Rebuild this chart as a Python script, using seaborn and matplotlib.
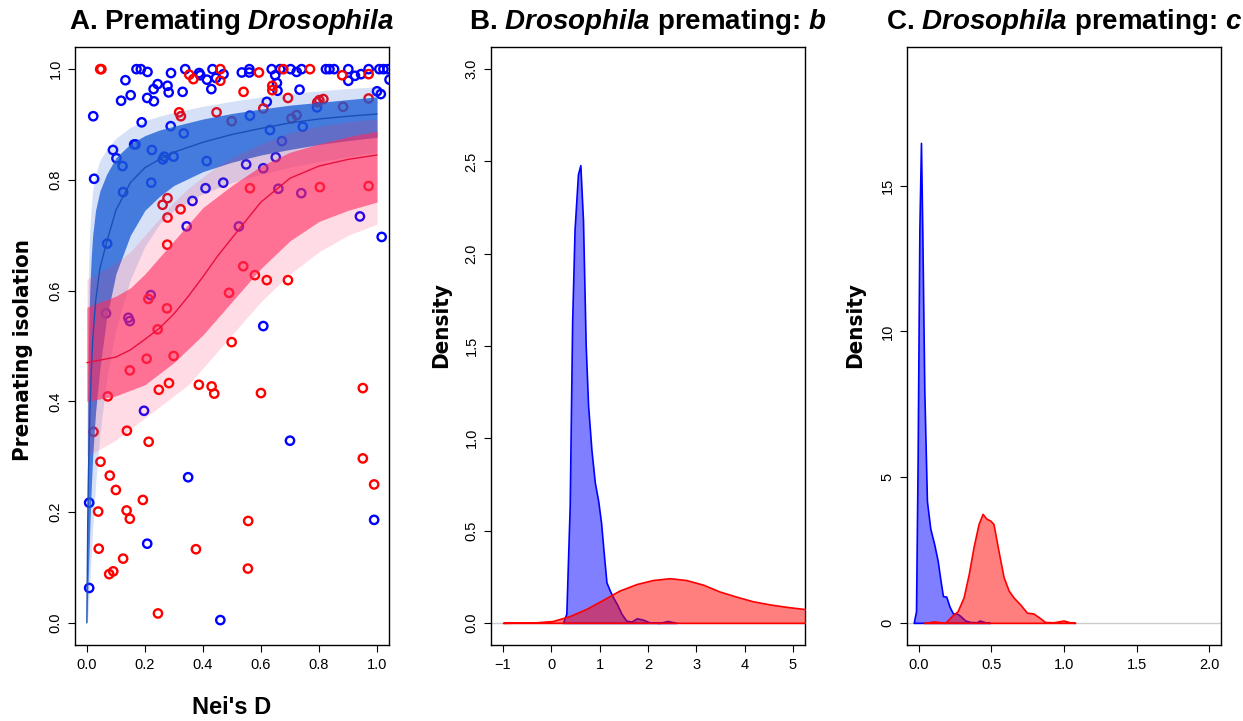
import numpy as np
import pandas as pd
import matplotlib
matplotlib.use("Agg")
import matplotlib.pyplot as plt
from matplotlib import font_manager as fm
import seaborn as sns

# ---- panel A: observed points (Nei's D, premating isolation) ----
blue_D = [0.171, 0.186, 0.209, 0.133, 0.290, 0.339, 0.387, 0.391, 0.414, 0.433, 0.445, 0.471,
          0.429, 0.244, 0.230, 0.278, 0.282, 0.330, 0.151, 0.118, 0.208, 0.231, 0.022, 0.189,
          0.289, 0.334, 0.090, 0.102, 0.123, 0.163, 0.168, 0.224, 0.025, 0.222, 0.125, 0.267,
          0.262, 0.299, 0.413, 0.470, 0.409, 0.364, 0.344, 0.070,
          0.534, 0.560, 0.560, 0.637, 0.666, 0.702, 0.723, 0.740, 0.824, 0.836, 0.852, 0.901,
          0.901, 0.924, 0.945, 0.971, 1.008, 1.022, 1.036, 1.043, 0.649, 0.655, 0.657, 0.733,
          0.620, 0.793, 1.000, 1.013, 0.562, 0.631, 0.744, 0.672, 0.549, 0.651, 0.608, 0.660,
          0.739, 0.941, 0.524, 1.016,
          0.220, 0.066, 0.143, 0.148, 0.197, 0.700, 0.608, 0.349, 0.008, 0.990, 0.208, 0.008,
          0.460]
blue_y = [1.000, 1.000, 0.995, 0.980, 0.993, 1.000, 0.993, 0.989, 0.981, 1.000, 0.984, 0.991,
          0.964, 0.973, 0.964, 0.970, 0.958, 0.959, 0.953, 0.943, 0.948, 0.942, 0.915, 0.904,
          0.897, 0.884, 0.854, 0.839, 0.825, 0.864, 0.864, 0.854, 0.802, 0.795, 0.778, 0.842,
          0.837, 0.842, 0.834, 0.795, 0.785, 0.762, 0.716, 0.685,
          0.994, 1.000, 0.994, 1.000, 1.000, 1.000, 0.995, 1.000, 1.000, 1.000, 1.000, 1.000,
          0.979, 0.988, 0.991, 1.000, 1.000, 1.000, 1.000, 0.981, 0.989, 0.975, 0.961, 0.963,
          0.941, 0.931, 0.960, 0.955, 0.916, 0.890, 0.896, 0.870, 0.828, 0.841, 0.821, 0.784,
          0.776, 0.734, 0.716, 0.697,
          0.592, 0.559, 0.551, 0.545, 0.383, 0.329, 0.536, 0.263, 0.217, 0.186, 0.143, 0.063,
          0.005]

red_D = [0.046, 0.050, 0.353, 0.367, 0.460, 0.460, 0.318, 0.324, 0.447, 0.499, 0.278, 0.261,
         0.323, 0.278, 0.277,
         0.593, 0.677, 0.769, 0.880, 0.971, 0.639, 0.639, 0.540, 0.693, 0.608, 0.794, 0.801,
         0.815, 0.883, 0.971, 0.705, 0.723, 0.562, 0.803, 0.971,
         0.212, 0.276, 0.244, 0.206, 0.299, 0.148, 0.072, 0.248, 0.283, 0.386, 0.430, 0.439,
         0.600, 0.951, 0.023, 0.138, 0.213, 0.951, 0.047, 0.490, 0.539, 0.579, 0.620, 0.693,
         0.499,
         0.079, 0.100, 0.193, 0.990, 0.039, 0.137, 0.148, 0.556, 0.041, 0.376, 0.125, 0.077,
         0.091, 0.555, 0.245]
red_y = [1.000, 1.000, 0.990, 0.982, 1.000, 0.979, 0.922, 0.915, 0.922, 0.906, 0.767, 0.755,
         0.747, 0.732, 0.683,
         0.994, 1.000, 1.000, 0.989, 0.991, 0.970, 0.962, 0.959, 0.948, 0.929, 0.940, 0.944,
         0.946, 0.932, 0.947, 0.911, 0.917, 0.785, 0.787, 0.789,
         0.585, 0.568, 0.530, 0.477, 0.482, 0.456, 0.409, 0.421, 0.433, 0.430, 0.427, 0.414,
         0.415, 0.424, 0.345, 0.347, 0.327, 0.297, 0.291, 0.596, 0.644, 0.628, 0.619, 0.619,
         0.507,
         0.266, 0.240, 0.222, 0.250, 0.201, 0.203, 0.188, 0.184, 0.134, 0.133, 0.116, 0.088,
         0.093, 0.098, 0.017]

# ---- panel A: posterior fits (mean curve and envelope) ----
blue_fit_D = [0, 0.003, 0.006, 0.01, 0.015, 0.02, 0.03, 0.045, 0.068, 0.1, 0.15, 0.2, 0.25,
              0.3, 0.4, 0.5, 0.6, 0.7, 0.8, 0.9, 1.0]
blue_mean = [0, 0.18, 0.28, 0.37, 0.45, 0.51, 0.58, 0.64, 0.687, 0.745, 0.795, 0.822, 0.837,
             0.850, 0.868, 0.882, 0.893, 0.903, 0.910, 0.915, 0.919]
blue_lo = [0, 0.05, 0.10, 0.17, 0.24, 0.30, 0.38, 0.46, 0.55, 0.63, 0.70, 0.745, 0.77,
           0.79, 0.815, 0.832, 0.845, 0.855, 0.864, 0.871, 0.877]
blue_hi = [0, 0.40, 0.52, 0.60, 0.66, 0.70, 0.745, 0.78, 0.81, 0.84, 0.865, 0.88, 0.89,
           0.897, 0.91, 0.92, 0.928, 0.935, 0.94, 0.945, 0.95]
blue_lo_outer = [0, 0.01, 0.03, 0.07, 0.12, 0.17, 0.25, 0.34, 0.44, 0.53, 0.62, 0.68, 0.72,
                 0.745, 0.775, 0.795, 0.81, 0.823, 0.833, 0.842, 0.85]
blue_hi_outer = [0, 0.55, 0.65, 0.71, 0.75, 0.78, 0.81, 0.835, 0.855, 0.875, 0.895, 0.907,
                 0.915, 0.922, 0.933, 0.942, 0.95, 0.956, 0.961, 0.965, 0.968]

red_fit_D = [0, 0.1, 0.15, 0.2, 0.25, 0.3, 0.35, 0.4, 0.45, 0.5, 0.6, 0.7, 0.8, 0.9, 1.0]
red_mean = [0.470, 0.480, 0.493, 0.512, 0.532, 0.558, 0.590, 0.625, 0.662, 0.695, 0.760,
            0.803, 0.825, 0.837, 0.845]
red_lo = [0.40, 0.41, 0.42, 0.43, 0.45, 0.47, 0.495, 0.52, 0.55, 0.58, 0.64, 0.69, 0.725,
          0.745, 0.76]
red_hi = [0.57, 0.59, 0.605, 0.63, 0.66, 0.69, 0.72, 0.75, 0.77, 0.79, 0.825, 0.85, 0.865,
          0.878, 0.888]
red_lo_outer = [0.30, 0.33, 0.35, 0.37, 0.39, 0.41, 0.43, 0.46, 0.49, 0.52, 0.58, 0.63, 0.67,
                0.70, 0.72]
red_hi_outer = [0.62, 0.65, 0.67, 0.70, 0.73, 0.76, 0.785, 0.805, 0.825, 0.84, 0.865, 0.885,
                0.897, 0.905, 0.91]

# ---- panel B: posterior density of b ----
b_blue_x = [0.24, 0.31, 0.38, 0.43, 0.48, 0.55, 0.60, 0.655, 0.71, 0.76, 0.83, 0.90, 0.97,
            1.03, 1.08, 1.14, 1.21, 1.28, 1.36, 1.45, 1.55, 1.66, 1.77, 1.90, 2.03, 2.24,
            2.41, 2.59]
b_blue_y = [0.0, 0.05, 0.64, 1.63, 2.13, 2.43, 2.48, 2.18, 1.51, 1.18, 0.935, 0.76, 0.66,
            0.54, 0.39, 0.22, 0.175, 0.137, 0.10, 0.05, 0.012, 0.007, 0.025, 0.017, 0.003,
            0.0, 0.01, 0.0]
b_red_x = [-1.0, -0.31, 0.03, 0.38, 0.72, 1.07, 1.41, 1.76, 2.10, 2.45, 2.79, 3.14, 3.48,
           3.83, 4.17, 4.52, 4.86, 5.24, 5.6]
b_red_y = [0.0, 0.003, 0.01, 0.037, 0.075, 0.125, 0.175, 0.21, 0.232, 0.242, 0.232, 0.207,
           0.17, 0.142, 0.117, 0.10, 0.087, 0.075, 0.065]

# ---- panel C: posterior density of c ----
c_blue_x = [-0.034, -0.018, -0.007, 0.005, 0.016, 0.025, 0.039, 0.057, 0.08, 0.108, 0.131,
            0.149, 0.167, 0.19, 0.213, 0.236, 0.263, 0.286, 0.321, 0.355, 0.40, 0.419,
            0.458, 0.49]
c_blue_y = [0.0, 0.4, 5.6, 13.5, 16.47, 13.5, 7.97, 4.18, 3.24, 2.68, 2.13, 1.50, 0.92, 0.90,
            0.55, 0.32, 0.32, 0.24, 0.08, 0.03, 0.02, 0.08, 0.02, 0.0]
c_red_x = [0.039, 0.103, 0.183, 0.229, 0.268, 0.309, 0.344, 0.378, 0.412, 0.44, 0.465, 0.493,
           0.515, 0.55, 0.584, 0.619, 0.653, 0.699, 0.745, 0.79, 0.825, 0.87, 0.928, 0.997,
           1.04, 1.077]
c_red_y = [0.0, 0.05, 0.0, 0.24, 0.40, 0.87, 1.66, 2.61, 3.39, 3.74, 3.58, 3.51, 3.39, 2.45,
           1.58, 1.11, 0.87, 0.63, 0.35, 0.32, 0.2, 0.03, 0.02, 0.08, 0.02, 0.0]

sns.set_theme(style="white")
plt.rcParams['font.family'] = ['Liberation Sans', 'DejaVu Sans']
plt.rcParams['mathtext.fontset'] = 'custom'
plt.rcParams['mathtext.it'] = 'Liberation Sans:italic:bold'
plt.rcParams['mathtext.rm'] = 'Liberation Sans:bold'
for key in ['text.color', 'axes.labelcolor', 'xtick.color', 'ytick.color']:
    plt.rcParams[key] = 'black'


def find_narrow_bold():
    # condensed bold face for the y labels, if one is installed
    best = None
    for f in fm.fontManager.ttflist:
        w = f.weight if isinstance(f.weight, int) else {'bold': 700}.get(f.weight, 400)
        if w < 600:
            continue
        narrow = 'Narrow' in f.name or 'Condensed' in f.name or \
            str(f.stretch) in ('condensed', 'semi-condensed', 'extra-condensed')
        if not narrow or 'Italic' in f.fname or 'Oblique' in f.fname:
            continue
        rank = 0 if 'Liberation' in f.name else (1 if 'DejaVu' in f.name else 2)
        if best is None or rank < best[0]:
            best = (rank, f.fname)
    return best[1] if best else None


narrow_path = find_narrow_bold()
if narrow_path:
    ylab_font = fm.FontProperties(fname=narrow_path, size=16)
else:
    ylab_font = fm.FontProperties(family='Liberation Sans', weight='bold', size=15)

BLUE_BAND = '#1c5ed6'
RED_BAND = '#ff2a5e'

fig = plt.figure(figsize=(12.43, 7.21), dpi=100)
ax_w, ax_h, ax_b = 0.2526, 0.8294, 0.1054
axA = fig.add_axes([0.0603, ax_b, ax_w, ax_h])
axB = fig.add_axes([0.3950, ax_b, ax_w, ax_h])
axC = fig.add_axes([0.7297, ax_b, ax_w, ax_h])

title_kw = dict(fontsize=20, fontweight='bold', pad=13, color='black')

# ---------- A ----------
pts = pd.concat([
    pd.DataFrame({'D': blue_D, 'iso': blue_y, 'grp': 'blue'}),
    pd.DataFrame({'D': red_D, 'iso': red_y, 'grp': 'red'}),
])
for grp, col in [('blue', '#0000ff'), ('red', '#ff0000')]:
    sub = pts[pts['grp'] == grp]
    sns.scatterplot(data=sub, x='D', y='iso', ax=axA, marker='o', s=36,
                    facecolor='none', edgecolor=col, linewidth=1.7, zorder=2)

axA.fill_between(blue_fit_D, blue_lo_outer, blue_hi_outer, color=BLUE_BAND, alpha=0.18, lw=0, zorder=3)
axA.fill_between(blue_fit_D, blue_lo, blue_hi, color=BLUE_BAND, alpha=0.78, lw=0, zorder=3)
axA.fill_between(red_fit_D, red_lo_outer, red_hi_outer, color=RED_BAND, alpha=0.16, lw=0, zorder=3)
axA.fill_between(red_fit_D, red_lo, red_hi, color=RED_BAND, alpha=0.6, lw=0, zorder=3)
sns.lineplot(x=blue_fit_D, y=blue_mean, ax=axA, color='#1a4fb8', lw=1.0, sort=False,
             estimator=None, zorder=4)
sns.lineplot(x=red_fit_D, y=red_mean, ax=axA, color='#e8103f', lw=1.0, sort=False,
             estimator=None, zorder=4)

axA.set_xlim(-0.041, 1.041)
axA.set_ylim(-0.04, 1.04)
axA.set_xticks(np.arange(0, 1.01, 0.2))
axA.set_xticklabels([f'{v:.1f}' for v in np.arange(0, 1.01, 0.2)])
axA.set_yticks(np.arange(0, 1.01, 0.2))
axA.set_yticklabels([f'{v:.1f}' for v in np.arange(0, 1.01, 0.2)])
axA.set_title(r'A. Premating $\it{Drosophila}$', **title_kw)
axA.set_xlabel("Nei's D", fontsize=17, fontweight='bold')
axA.set_ylabel('Premating isolation', fontproperties=ylab_font)
axA.xaxis.set_label_coords(0.5, -0.085)
axA.yaxis.set_label_coords(-0.134, 0.493)

# ---------- B ----------
for ax in (axB, axC):
    ax.axhline(0, color='#cccccc', lw=1.0, zorder=1)
axB.fill_between(b_blue_x, b_blue_y, 0, facecolor=(0, 0, 1, 0.5), edgecolor='#0000ff', lw=1.2, zorder=2)
axB.fill_between(b_red_x, b_red_y, 0, facecolor=(1, 0, 0, 0.5), edgecolor='#ff0000', lw=1.2, zorder=3)
axB.set_xlim(-1.25, 5.25)
axB.set_ylim(-0.12, 3.12)
axB.set_xticks(range(-1, 6))
axB.set_yticks(np.arange(0, 3.01, 0.5))
axB.set_yticklabels([f'{v:.1f}' for v in np.arange(0, 3.01, 0.5)])
axB.set_title(r'B. $\it{Drosophila}$ premating: $\it{b}$', **title_kw)
axB.set_ylabel('Density', fontproperties=ylab_font)
axB.yaxis.set_label_coords(-0.127, 0.535)

# ---------- C ----------
axC.fill_between(c_blue_x, c_blue_y, 0, facecolor=(0, 0, 1, 0.5), edgecolor='#0000ff', lw=1.2, zorder=2)
axC.fill_between(c_red_x, c_red_y, 0, facecolor=(1, 0, 0, 0.5), edgecolor='#ff0000', lw=1.2, zorder=3)
axC.set_xlim(-0.08, 2.08)
axC.set_ylim(-0.76, 19.76)
axC.set_xticks(np.arange(0, 2.01, 0.5))
axC.set_xticklabels([f'{v:.1f}' for v in np.arange(0, 2.01, 0.5)])
axC.set_yticks([0, 5, 10, 15])
axC.set_title(r'C. $\it{Drosophila}$ premating: $\it{c}$', **title_kw)
axC.set_ylabel('Density', fontproperties=ylab_font)
axC.yaxis.set_label_coords(-0.134, 0.535)

for ax in (axA, axB, axC):
    if ax is not axA:
        ax.set_xlabel('')
    for sp in ax.spines.values():
        sp.set_visible(True)
        sp.set_color('black')
        sp.set_linewidth(1.0)
    ax.tick_params(axis='both', which='both', direction='out', length=5, width=0.8,
                   labelsize=10.5, colors='black', left=True, bottom=True, pad=4)
    for lab in ax.get_yticklabels():
        lab.set_rotation(90)
        lab.set_va('center')
    ax.grid(False)

fig.savefig('out.png', dpi=100)
